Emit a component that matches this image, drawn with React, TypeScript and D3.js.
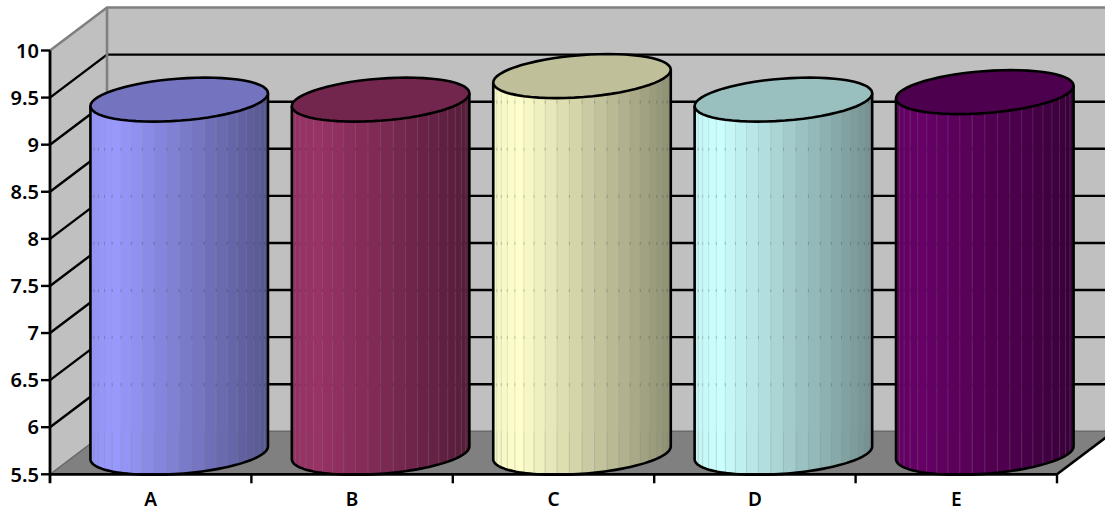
import * as d3 from 'd3'

const categories = ['A', 'B', 'C', 'D', 'E']
const values = [9.25, 9.25, 9.5, 9.25, 9.33]
const barColors = ['#9999FF', '#993366', '#FFFFCC', '#CCFFFF', '#660066']
const yTicks = [5.5, 6, 6.5, 7, 7.5, 8, 8.5, 9, 9.5, 10]

const WIDTH = 1105
const HEIGHT = 512
const LEFT = 50
const RIGHT = 1057
const BOTTOM = 474.3
const TOP = 50.5
const DX = 57
const DY = -43
const STRIPS = 22

const x = d3.scaleBand().domain(categories).range([LEFT, RIGHT])
const y = d3.scaleLinear().domain([5.5, 10]).range([BOTTOM, TOP])
const tickFormat = (d: number) => String(d)

const bw = x.bandwidth()
const rx = bw * 0.4215 // half of the long axis
const skew = bw * 0.129 // lean of the ellipse
const ry = 22
const halfW = Math.sqrt(rx * rx + skew * skew)
const tExtreme = Math.atan2(skew, rx)

const ellipsePoint = (cx: number, cy: number, t: number): [number, number] => [
  cx + rx * Math.cos(t) + skew * Math.sin(t),
  cy - ry * Math.sin(t),
]

const line = d3.line()

const arcPoints = (cx: number, cy: number, from: number, to: number) =>
  d3.range(0, 61).map((i) => ellipsePoint(cx, cy, from + ((to - from) * i) / 60))

const ellipsePath = (cx: number, cy: number) => line(arcPoints(cx, cy, 0, Math.PI * 2)) + 'Z'

const bodyPath = (cx: number, topY: number, baseY: number) => {
  // right extreme of base, round the front to the left extreme, then up and over the top
  const front = arcPoints(cx, baseY, tExtreme, tExtreme - Math.PI)
  const top = arcPoints(cx, topY, tExtreme - Math.PI, tExtreme)
  return line([...front, ...top]) + 'Z'
}

const outlinePath = (cx: number, topY: number, baseY: number) => {
  const front = arcPoints(cx, baseY, tExtreme, tExtreme - Math.PI)
  return line([ellipsePoint(cx, topY, tExtreme), ...front, ellipsePoint(cx, topY, tExtreme - Math.PI)])
}

// light falls from the left, brightest a bit in from the edge
const shade = (color: string, u: number) => {
  const k = u < 0.14 ? 0.96 + (0.04 * u) / 0.14 : 1 - (0.44 * (u - 0.14)) / 0.86
  const c = d3.rgb(color)
  return d3.rgb(c.r * k, c.g * k, c.b * k).formatHex()
}

const Cylinder = ({ cat, value, color, index }: { cat: string; value: number; color: string; index: number }) => {
  const cx = (x(cat) as number) + bw / 2 + DX / 2
  const topY = y(value) + DY / 2
  const baseY = BOTTOM + DY / 2
  const edges = d3.range(0, STRIPS + 1).map((i) => cx - halfW * Math.cos((Math.PI * i) / STRIPS))
  const top = d3.rgb(color)
  const topColor = d3.rgb(top.r * 0.75, top.g * 0.75, top.b * 0.75).formatHex()
  const seams = edges.slice(1, -1)
  return (
    <g>
      <clipPath id={`body-${index}`}>
        <path d={bodyPath(cx, topY, baseY)} />
      </clipPath>
      <g clipPath={`url(#body-${index})`}>
        {edges.slice(0, -1).map((e, i) => (
          <rect
            key={i}
            x={e}
            y={topY - ry - 2}
            width={edges[i + 1] - e + 0.6}
            height={baseY - topY + 2 * ry + 4}
            fill={shade(color, (e + (edges[i + 1] - e) / 2 - (cx - halfW)) / (2 * halfW))}
          />
        ))}
        {seams.map((e, i) => (
          <g key={i}>
            <line x1={e} x2={e} y1={topY - ry} y2={y(5.5) + DY} stroke="#999" strokeOpacity={0.22} />
            <line x1={e} x2={e} y1={y(5.5) + DY} y2={baseY + ry} stroke="#888" strokeOpacity={0.3} />
          </g>
        ))}
        {yTicks.slice(1).map((t) =>
          seams.map((e, i) => (
            <rect key={`${t}-${i}`} x={e - 0.5} y={y(t) + DY - 1} width={1} height={3} fill="#000" fillOpacity={0.18} />
          )),
        )}
      </g>
      <path d={outlinePath(cx, topY, baseY) as string} fill="none" stroke="#000" strokeWidth={2.6} strokeLinejoin="round" />
      <path d={ellipsePath(cx, topY)} fill={topColor} stroke="#000" strokeWidth={2.6} />
    </g>
  )
}

export default function App() {
  const backRight = RIGHT + DX
  const backBottom = BOTTOM + DY
  const backTop = TOP + DY
  const backLeft = LEFT + DX
  return (
    <svg
      width={WIDTH}
      height={HEIGHT}
      style={{ position: 'absolute', left: 0, top: 0, background: '#fff' }}
      fontFamily="'Noto Sans', sans-serif"
    >
      {/* walls and floor */}
      <path d={line([[LEFT, TOP], [backLeft, backTop], [backLeft, backBottom], [LEFT, BOTTOM]]) + 'Z'} fill="#C0C0C0" />
      <rect x={backLeft} y={backTop} width={backRight - backLeft} height={backBottom - backTop} fill="#C0C0C0" />
      <path d={line([[LEFT, BOTTOM], [backLeft, backBottom], [backRight, backBottom], [RIGHT, BOTTOM]]) + 'Z'} fill="#808080" />

      {/* gridlines */}
      {yTicks.slice(1, -1).map((t) => (
        <path
          key={t}
          d={line([[LEFT, y(t)], [backLeft, y(t) + DY], [backRight, y(t) + DY]]) as string}
          fill="none"
          stroke="#000"
          strokeWidth={2.4}
        />
      ))}
      <path
        d={line([[LEFT, BOTTOM], [backLeft, backBottom], [backRight, backBottom]]) as string}
        fill="none"
        stroke="#6a6a6a"
        strokeWidth={1.5}
      />
      <path
        d={line([[LEFT, TOP], [backLeft, backTop], [backRight, backTop]]) as string}
        fill="none"
        stroke="#808080"
        strokeWidth={2.6}
      />
      <line x1={backLeft} x2={backLeft} y1={backTop} y2={backBottom} stroke="#808080" strokeWidth={2.6} />
      <line x1={RIGHT} x2={backRight} y1={BOTTOM} y2={backBottom} stroke="#000" strokeWidth={2.6} />

      {categories.map((c, i) => (
        <Cylinder key={c} cat={c} value={values[i]} color={barColors[i]} index={i} />
      ))}

      {/* axes */}
      <line x1={LEFT} x2={LEFT} y1={TOP} y2={BOTTOM + 9} stroke="#000" strokeWidth={2.8} />
      <line x1={LEFT} x2={RIGHT} y1={BOTTOM} y2={BOTTOM} stroke="#000" strokeWidth={2.8} />
      {yTicks.map((t) => (
        <g key={t}>
          <line x1={LEFT - 9} x2={LEFT} y1={y(t)} y2={y(t)} stroke="#000" strokeWidth={2.4} />
          <text x={39} y={y(t)} dy="0.36em" textAnchor="end" fontSize={20} fontWeight={600} fill="#000">
            {tickFormat(t)}
          </text>
        </g>
      ))}
      {categories.map((c) => (
        <g key={c}>
          <line
            x1={(x(c) as number) + bw}
            x2={(x(c) as number) + bw}
            y1={BOTTOM}
            y2={BOTTOM + 9}
            stroke="#000"
            strokeWidth={2.4}
          />
          <text x={(x(c) as number) + bw / 2} y={506} textAnchor="middle" fontSize={19} fontWeight={600} fill="#000">
            {c}
          </text>
        </g>
      ))}
    </svg>
  )
}
